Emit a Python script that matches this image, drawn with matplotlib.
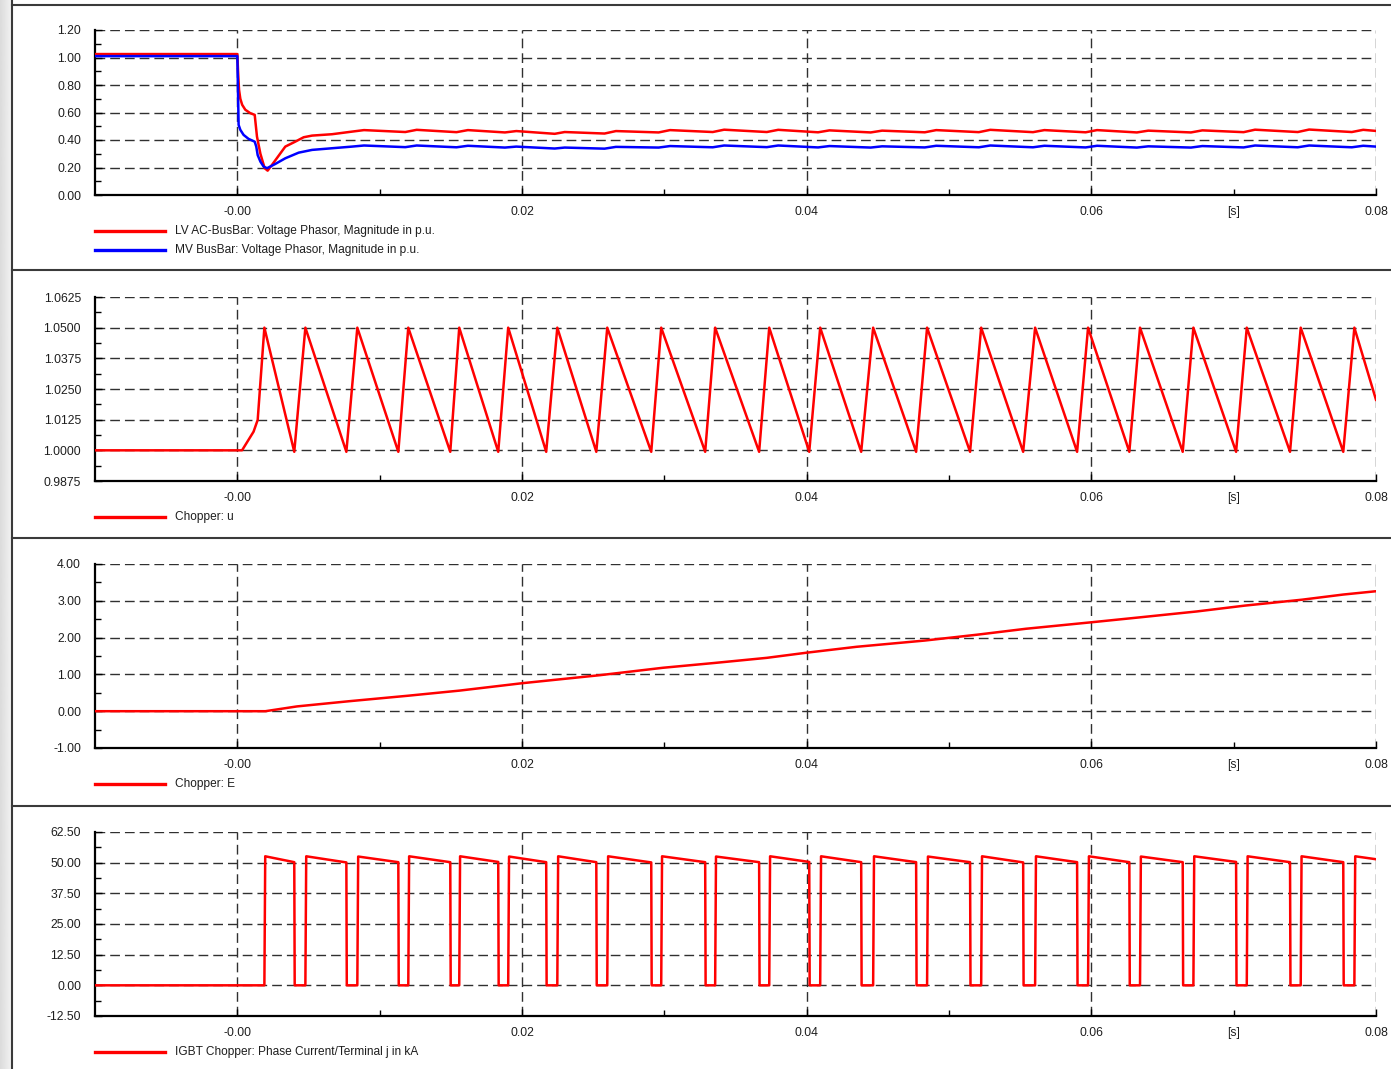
import matplotlib
matplotlib.use('Agg')
import matplotlib.pyplot as plt
from matplotlib.lines import Line2D
import numpy as np

plt.rcParams['font.family'] = ['Liberation Sans', 'DejaVu Sans']

# ---------------- data (time in ms) ----------------
# Panel 1: voltages (p.u.)
lv_t_ms = [-10.0, 0.0, 0.05, 0.12, 0.21, 0.34, 0.56, 0.91, 1.22, 1.38, 1.62, 1.92, 2.13,
           2.44, 3.37, 4.07, 4.66, 5.25, 6.65, 8.06,
           8.9, 11.8, 12.6, 15.4, 16.2, 18.8, 19.6, 22.3, 23.0, 25.8, 26.6, 29.6, 30.4,
           33.4, 34.2, 37.2, 38.0, 40.8, 41.6, 44.5, 45.3, 48.3, 49.1, 52.1, 52.9,
           55.9, 56.7, 59.6, 60.4, 63.2, 64.0, 67.0, 67.8, 70.7, 71.5, 74.5, 75.3,
           78.3, 79.1, 80.0]
lv_pu = [1.025, 1.025, 0.90, 0.765, 0.70, 0.656, 0.62, 0.595, 0.583, 0.425, 0.30, 0.195, 0.177,
         0.22, 0.352, 0.388, 0.42, 0.432, 0.442, 0.461,
         0.472, 0.458, 0.474, 0.457, 0.472, 0.455, 0.465, 0.445, 0.458, 0.447, 0.465, 0.455, 0.472,
         0.458, 0.475, 0.458, 0.474, 0.456, 0.470, 0.455, 0.468, 0.456, 0.472, 0.457, 0.474,
         0.457, 0.472, 0.456, 0.472, 0.455, 0.468, 0.455, 0.470, 0.457, 0.475, 0.458, 0.476,
         0.458, 0.474, 0.466]

mv_t_ms = [-10.0, 0.0, 0.09, 0.21, 0.44, 0.79, 1.22, 1.33, 1.43, 1.62, 1.85, 2.09, 2.67,
           3.37, 4.31, 5.25, 6.65, 8.06,
           8.9, 11.8, 12.6, 15.4, 16.2, 18.8, 19.6, 22.3, 23.0, 25.8, 26.6, 29.6, 30.4,
           33.4, 34.2, 37.2, 38.0, 40.8, 41.6, 44.5, 45.3, 48.3, 49.1, 52.1, 52.9,
           55.9, 56.7, 59.6, 60.4, 63.2, 64.0, 67.0, 67.8, 70.7, 71.5, 74.5, 75.3,
           78.3, 79.1, 80.0]
mv_pu = [1.01, 1.01, 0.51, 0.474, 0.437, 0.408, 0.388, 0.352, 0.29, 0.243, 0.206, 0.195, 0.226,
         0.267, 0.308, 0.328, 0.34, 0.352,
         0.360, 0.348, 0.360, 0.347, 0.358, 0.345, 0.352, 0.338, 0.345, 0.337, 0.350, 0.345, 0.356,
         0.347, 0.360, 0.348, 0.360, 0.346, 0.356, 0.345, 0.354, 0.346, 0.358, 0.347, 0.360,
         0.347, 0.358, 0.346, 0.358, 0.345, 0.354, 0.345, 0.356, 0.346, 0.360, 0.347, 0.360,
         0.347, 0.358, 0.352]

# Panel 2: chopper u -- start-up ramp, then peaks (1.05) and troughs (1.0)
u_start_ms = [-10.0, 0.33, 1.14, 1.43]
u_start_val = [1.0, 1.0, 1.0076, 1.0124]
u_peak_ms = [1.90, 4.78, 8.43, 12.01, 15.59, 19.03, 22.48, 25.99, 29.78, 33.57, 37.37,
             40.95, 44.67, 48.46, 52.26, 56.05, 59.77, 63.42, 67.17, 70.92, 74.71, 78.48]
u_trough_ms = [4.00, 7.66, 11.31, 14.96, 18.33, 21.70, 25.22, 29.08, 32.87, 36.66, 40.18,
               43.83, 47.69, 51.48, 55.21, 59.00, 62.67, 66.42, 70.17, 73.96, 77.70]
u_peak_val = 1.05
u_trough_val = 0.9994
u_end_ms, u_end_val = 80.0, 1.0206

# Panel 3: chopper E
e_t_ms = [-10.0, 1.97, 4.19, 7.82, 11.98, 15.62, 20.0, 25.5, 29.9, 33.5, 37.2, 40.0,
          43.5, 48.3, 52.0, 55.4, 60.1, 63.4, 67.4, 70.8, 74.8, 77.7, 80.0]
e_val = [0.0, 0.0, 0.13, 0.27, 0.42, 0.56, 0.76, 0.98, 1.18, 1.31, 1.45, 1.59,
         1.75, 1.92, 2.08, 2.24, 2.42, 2.55, 2.71, 2.87, 3.03, 3.17, 3.26]

# Panel 4: IGBT current (kA): on at u peaks, off at u troughs
i_on_kA = [52.6, 52.6, 52.5, 52.6, 52.6, 52.5, 52.6, 52.6, 52.6, 52.5, 52.6,
           52.6, 52.6, 52.5, 52.6, 52.6, 52.6, 52.5, 52.6, 52.6, 52.6, 52.6]
i_off_kA = [50.2, 50.1, 50.2, 50.2, 50.3, 50.2, 50.2, 50.1, 50.2, 50.2, 50.3,
            50.2, 50.2, 50.2, 50.1, 50.2, 50.2, 50.2, 50.3, 50.2, 50.2]
i_end_kA = 51.4

# axis / label definitions
x_major = [0.0, 0.02, 0.04, 0.06, 0.08]
x_major_labels = ['-0.00', '0.02', '0.04', '0.06', '0.08']
x_minor = [0.01, 0.03, 0.05, 0.07]
x_minor_labels = ['', '', '', '[s]']

p1_yticks = [0.00, 0.20, 0.40, 0.60, 0.80, 1.00, 1.20]
p2_yticks = [0.9875, 1.0000, 1.0125, 1.0250, 1.0375, 1.0500, 1.0625]
p3_yticks = [-1.0, 0.0, 1.0, 2.0, 3.0, 4.0]
p4_yticks = [-12.5, 0.0, 12.5, 25.0, 37.5, 50.0, 62.5]

legend1 = ['LV AC-BusBar: Voltage Phasor, Magnitude in p.u.',
           'MV BusBar: Voltage Phasor, Magnitude in p.u.']
legend2 = ['Chopper: u']
legend3 = ['Chopper: E']
legend4 = ['IGBT Chopper: Phase Current/Terminal j in kA']

RED = '#ff0000'
BLUE = '#0000ff'

# ---------------- build series ----------------
def ms(a):
    return np.asarray(a, dtype=float) / 1000.0

u_t = list(u_start_ms)
u_v = list(u_start_val)
for k, p in enumerate(u_peak_ms):
    u_t.append(p); u_v.append(u_peak_val)
    if k < len(u_trough_ms):
        u_t.append(u_trough_ms[k]); u_v.append(u_trough_val)
u_t.append(u_end_ms); u_v.append(u_end_val)

i_t = [-10.0]
i_v = [0.0]
for k, p in enumerate(u_peak_ms):
    i_t += [p, p + 0.06]
    i_v += [0.0, i_on_kA[k]]
    if k < len(u_trough_ms):
        tr = u_trough_ms[k]
        i_t += [tr, tr + 0.03]
        i_v += [i_off_kA[k], 0.0]
i_t.append(80.0); i_v.append(i_end_kA)

# ---------------- figure ----------------
W, H = 1391, 1069
fig = plt.figure(figsize=(W / 100, H / 100), dpi=100)
fig.patch.set_facecolor('white')

def fx(x):
    return x / W

def fy(y):
    return 1 - y / H

# left gray strip
gax = fig.add_axes([0, 0, fx(12), 1])
grad = np.linspace(0.86, 0.95, 20).reshape(1, -1)
gax.imshow(grad, aspect='auto', cmap='gray', vmin=0, vmax=1, extent=[0, 1, 0, 1])
gax.set_axis_off()

FRAME = '#3a3a3a'
fig.add_artist(Line2D([fx(12), fx(12)], [0, 1], transform=fig.transFigure, color=FRAME, lw=1.5))
for yy in [5, 270, 538, 806]:
    fig.add_artist(Line2D([fx(12), 1], [fy(yy), fy(yy)], transform=fig.transFigure,
                          color=FRAME, lw=1.5))

TXT = '#1e1e1e'
FS = 8.8
FS_LEG = 8.6

def make_ax(top, bottom, yticks, fmt):
    ax = fig.add_axes([fx(95), fy(bottom), fx(1376) - fx(95), fy(top) - fy(bottom)])
    ax.set_xlim(-0.01, 0.08)
    ax.set_ylim(yticks[0], yticks[-1])
    ax.set_xticks(x_major)
    ax.set_xticklabels(x_major_labels)
    ax.set_xticks(x_minor, minor=True)
    ax.set_xticklabels(x_minor_labels, minor=True)
    ax.set_yticks(yticks)
    ax.set_yticklabels([fmt.format(v) for v in yticks])
    step = yticks[1] - yticks[0]
    ax.set_yticks([v + step / 2 for v in yticks[:-1]], minor=True)
    for s in ['top', 'right']:
        ax.spines[s].set_visible(False)
    for s in ['left', 'bottom']:
        ax.spines[s].set_linewidth(1.6)
        ax.spines[s].set_color('black')
    ax.tick_params(axis='both', which='both', direction='in', colors='black',
                   labelcolor=TXT, labelsize=FS)
    ax.tick_params(axis='both', which='major', length=5, width=1)
    ax.tick_params(axis='both', which='minor', length=4, width=1)
    ax.tick_params(axis='x', which='both', pad=8)
    ax.tick_params(axis='y', which='both', pad=10)
    ax.tick_params(top=False, right=False)
    ax.grid(True, which='major', color='#303030', lw=1.0, linestyle=(0, (7.0, 3.6)))
    ax.set_axisbelow(True)
    ax.patch.set_alpha(0)
    return ax

def legend(entries, colors, y0):
    for k, (txt, c) in enumerate(zip(entries, colors)):
        y = y0 + 19 * k
        fig.add_artist(Line2D([fx(95), fx(165)], [fy(y), fy(y)], transform=fig.transFigure,
                              color=c, lw=2.4))
        fig.text(fx(175), fy(y), txt, fontsize=FS_LEG, color=TXT, va='center', ha='left')

LW = 1.8

ax1 = make_ax(30, 195, p1_yticks, '{:.2f}')
ax1.plot(ms(lv_t_ms), lv_pu, color=RED, lw=LW, zorder=3)
ax1.plot(ms(mv_t_ms), mv_pu, color=BLUE, lw=LW, zorder=4)
legend(legend1, [RED, BLUE], 231)

ax2 = make_ax(297, 481, p2_yticks, '{:.4f}')
ax2.plot(ms(u_t), u_v, color=RED, lw=LW, zorder=3)
legend(legend2, [RED], 517)

ax3 = make_ax(564, 748, p3_yticks, '{:.2f}')
ax3.plot(ms(e_t_ms), e_val, color=RED, lw=LW, zorder=3)
legend(legend3, [RED], 784)

ax4 = make_ax(832, 1016, p4_yticks, '{:.2f}')
ax4.plot(ms(i_t), i_v, color=RED, lw=LW, zorder=3)
legend(legend4, [RED], 1052)

fig.savefig('out.png', dpi=100)
